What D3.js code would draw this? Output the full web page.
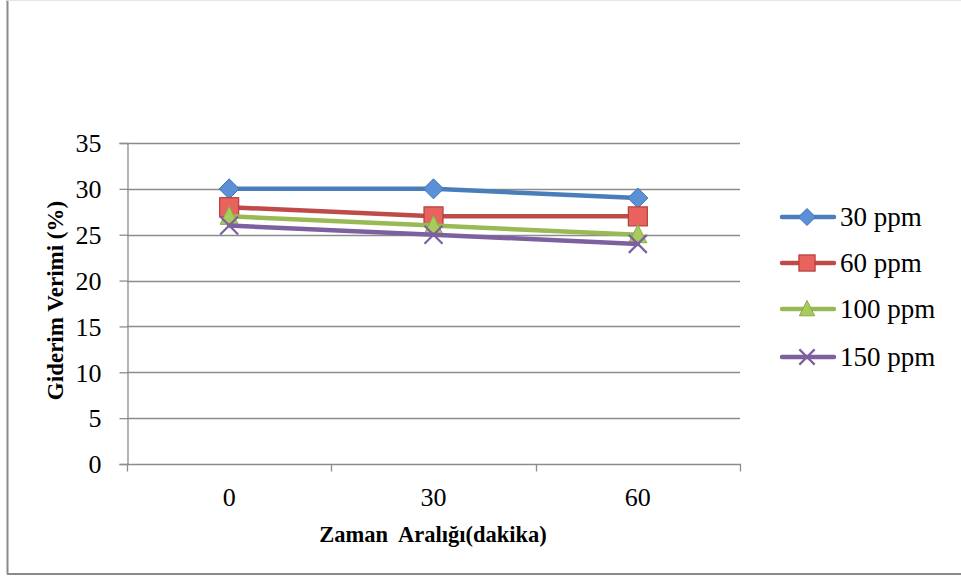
<!DOCTYPE html>
<html>
<head>
<meta charset="utf-8">
<script src="https://cdn.jsdelivr.net/npm/d3@7"></script>
<style>
  html, body { margin: 0; padding: 0; background: #fff; }
  svg { display: block; }
</style>
</head>
<body>
<svg id="chart" width="961" height="579"></svg>
<script>
// Removal efficiency over time for four concentrations
const categories = ["0", "30", "60"];
const seriesNames = ["30 ppm", "60 ppm", "100 ppm", "150 ppm"];
const s30 = [30, 30, 29];
const s60 = [28, 27, 27];
const s100 = [27, 26, 25];
const s150 = [26, 25, 24];
const yTicks = [0, 5, 10, 15, 20, 25, 30, 35];
const xTitle = "Zaman  Aralığı(dakika)";
const yTitle = "Giderim Verimi (%)";

const seriesValues = [s30, s60, s100, s150];
const colors = ["#4a7ebb", "#be4b48", "#98b954", "#7d60a0"];
const fills = ["#5b8fd6", "#e8625e", "#a8cc5c", "#7d60a0"];
const edges = ["#3f72b0", "#b33f3c", "#8aaa48", "#7d60a0"];
const shapes = ["diamond", "square", "triangle", "x"];

const svg = d3.select("#chart");
const font = "'Liberation Serif', 'DejaVu Serif', serif";

// frame
svg.append("line").attr("x1", 7.5).attr("x2", 7.5).attr("y1", 0).attr("y2", 574)
  .attr("stroke", "#8a8a8a").attr("stroke-width", 2);
svg.append("line").attr("x1", 7).attr("x2", 961).attr("y1", 574).attr("y2", 574)
  .attr("stroke", "#8a8a8a").attr("stroke-width", 2);
svg.append("line").attr("x1", 7).attr("x2", 961).attr("y1", 0.5).attr("y2", 0.5)
  .attr("stroke", "#e6e6e6").attr("stroke-width", 1);

const plotLeft = 127, plotRight = 740, plotTop = 143, plotBottom = 464;
const x = d3.scaleBand().domain(categories).range([plotLeft, plotRight]);
const y = d3.scaleLinear().domain([0, 35]).range([plotBottom, plotTop]);

// gridlines
svg.append("g").selectAll("line").data(yTicks.filter(d => d > 0)).join("line")
  .attr("x1", plotLeft).attr("x2", plotRight)
  .attr("y1", d => Math.round(y(d)) + 0.5).attr("y2", d => Math.round(y(d)) + 0.5)
  .attr("stroke", "#8c8c8c").attr("stroke-width", 1.3);

// y axis
const yAxis = svg.append("g").attr("transform", `translate(${plotLeft + 0.5},0)`)
  .call(d3.axisLeft(y).tickValues(yTicks).tickSize(8).tickPadding(18).tickFormat(d3.format("d")));
yAxis.select(".domain").attr("stroke", "#8c8c8c").attr("stroke-width", 1.3);
yAxis.selectAll(".tick line").attr("stroke", "#8c8c8c").attr("stroke-width", 1.3);
yAxis.selectAll("text").attr("font-family", font).attr("font-size", 26).attr("fill", "#000")
  .attr("dy", "0.34em");

// x axis with boundary ticks
const xAxis = svg.append("g").attr("transform", `translate(0,${plotBottom + 0.5})`);
xAxis.append("line").attr("x1", plotLeft).attr("x2", plotRight + 1).attr("y1", 0).attr("y2", 0)
  .attr("stroke", "#8c8c8c").attr("stroke-width", 1.3);
const bounds = categories.map(c => x(c)).concat([x(categories[categories.length - 1]) + x.bandwidth()]);
xAxis.selectAll("line.tk").data(bounds).join("line").attr("class", "tk")
  .attr("x1", d => Math.round(d) + 0.5).attr("x2", d => Math.round(d) + 0.5)
  .attr("y1", 0).attr("y2", 7).attr("stroke", "#8c8c8c").attr("stroke-width", 1.3);
xAxis.selectAll("text").data(categories).join("text")
  .attr("x", d => x(d) + x.bandwidth() / 2).attr("y", 41)
  .attr("text-anchor", "middle").attr("font-family", font).attr("font-size", 26).text(d => d);

// axis titles
svg.append("text").attr("x", 433).attr("y", 542).attr("text-anchor", "middle")
  .style("white-space", "pre")
  .attr("font-family", font).attr("font-size", 22.5).attr("font-weight", "bold").text(xTitle);
svg.append("text").attr("transform", `translate(63,${(plotTop + plotBottom) / 2 - 3}) rotate(-90)`)
  .attr("text-anchor", "middle").attr("font-family", font).attr("font-size", 23)
  .attr("font-weight", "bold").text(yTitle);

// marker drawing
function drawMarker(g, shape, cx, cy, i, r) {
  if (shape === "diamond") {
    g.append("path").attr("d", `M${cx},${cy - r}L${cx + r},${cy}L${cx},${cy + r}L${cx - r},${cy}Z`)
      .attr("fill", fills[i]).attr("stroke", edges[i]).attr("stroke-width", 1);
  } else if (shape === "square") {
    const h = r * 0.95;
    g.append("rect").attr("x", cx - h).attr("y", cy - h).attr("width", 2 * h).attr("height", 2 * h)
      .attr("fill", fills[i]).attr("stroke", edges[i]).attr("stroke-width", 1.2);
  } else if (shape === "triangle") {
    g.append("path").attr("d", `M${cx},${cy - r}L${cx + r * 0.9},${cy + r * 0.8}L${cx - r * 0.9},${cy + r * 0.8}Z`)
      .attr("fill", fills[i]).attr("stroke", edges[i]).attr("stroke-width", 1);
  } else {
    const h = r * 0.9;
    g.append("path").attr("d", `M${cx - h},${cy - h}L${cx + h},${cy + h}M${cx - h},${cy + h}L${cx + h},${cy - h}`)
      .attr("stroke", colors[i]).attr("stroke-width", 2.2).attr("fill", "none");
  }
}

const line = d3.line().x((d, j) => x(categories[j]) + x.bandwidth() / 2).y(d => y(d));

seriesValues.forEach((vals, i) => {
  const g = svg.append("g");
  g.append("path").datum(vals).attr("d", line)
    .attr("fill", "none").attr("stroke", colors[i]).attr("stroke-width", 4.5)
    .attr("stroke-linejoin", "round").attr("stroke-linecap", "round");
  vals.forEach((v, j) => drawMarker(g, shapes[i], x(categories[j]) + x.bandwidth() / 2, y(v), i, 10));
});

// legend
const legY = [217, 263, 309, 357];
seriesNames.forEach((name, i) => {
  const g = svg.append("g");
  g.append("line").attr("x1", 782).attr("x2", 834).attr("y1", legY[i]).attr("y2", legY[i])
    .attr("stroke", colors[i]).attr("stroke-width", 4.5).attr("stroke-linecap", "round");
  drawMarker(g, shapes[i], 807, legY[i], i, 8.5);
  g.append("text").attr("x", 840).attr("y", legY[i] + 9).attr("font-family", font)
    .attr("font-size", 27).text(name);
});
</script>
</body>
</html>
